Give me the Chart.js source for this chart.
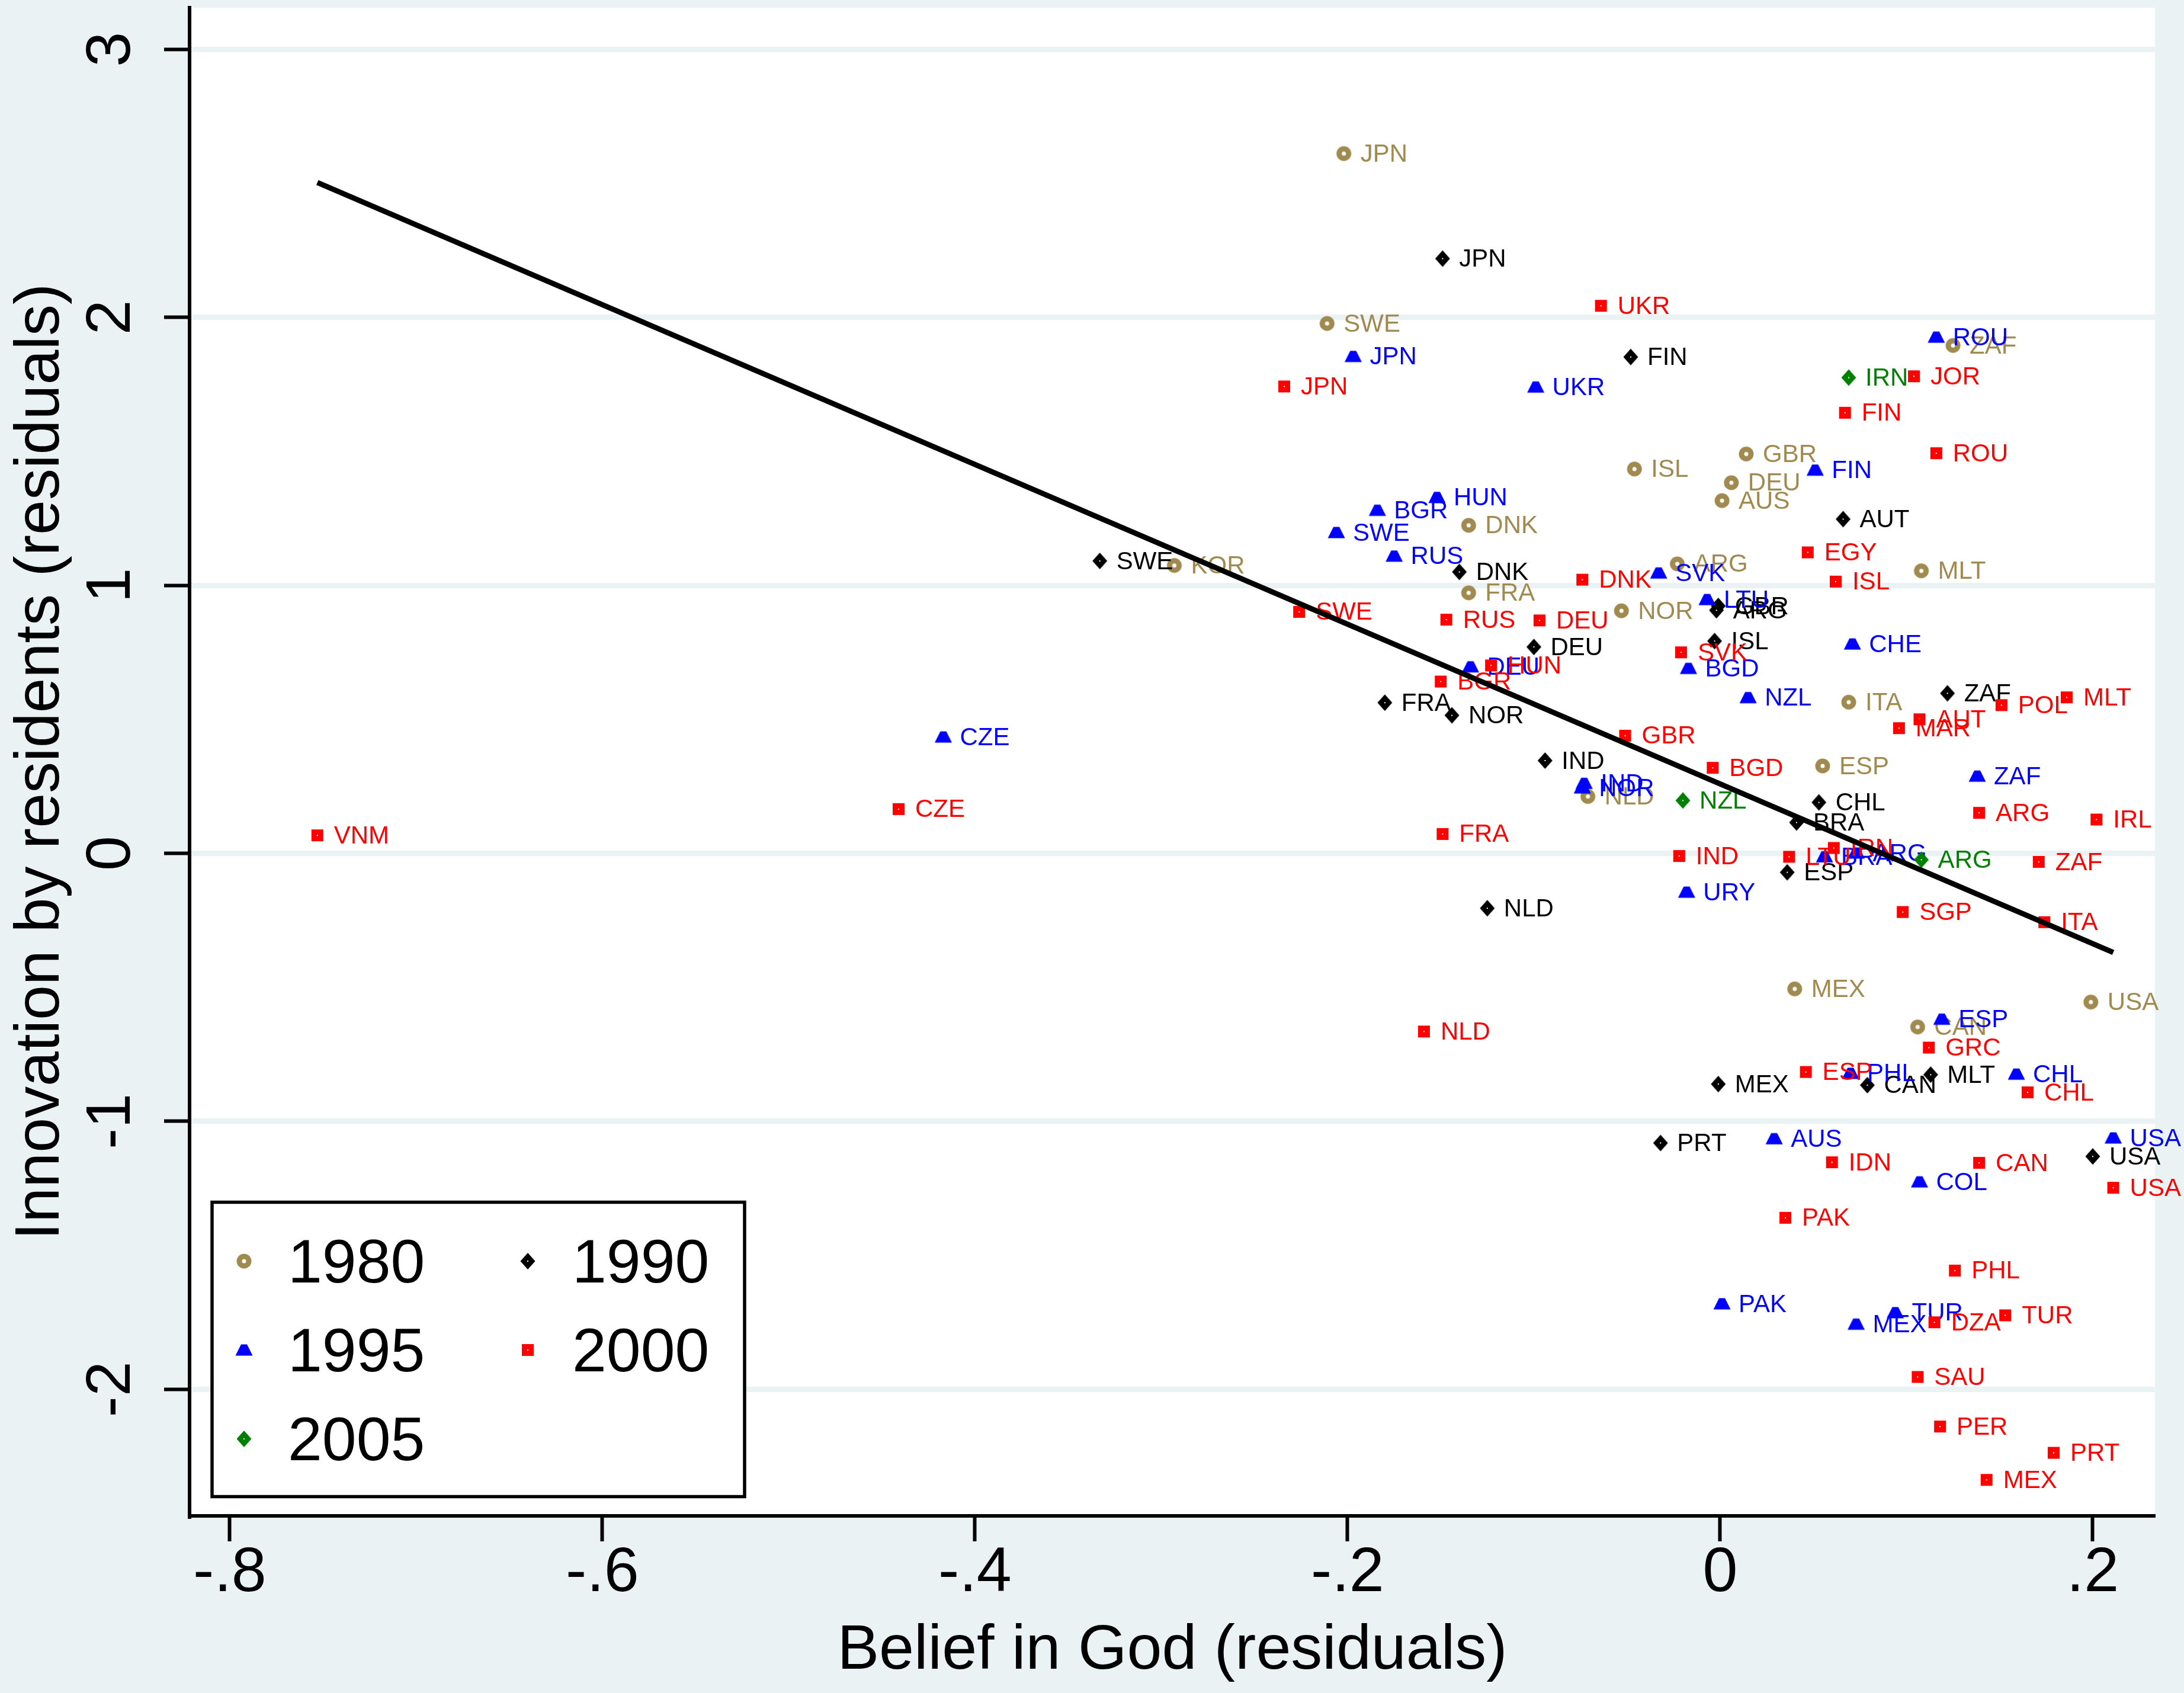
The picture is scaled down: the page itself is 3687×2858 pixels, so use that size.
<!DOCTYPE html>
<html>
<head>
<meta charset="utf-8">
<title>Belief in God vs innovation</title>
<script src="https://cdn.jsdelivr.net/npm/chart.js@4.4.1/dist/chart.umd.min.js"></script>
<style>
    html, body { margin: 0; padding: 0; background: #eaf2f3; }
    canvas { display: block; }
</style>
</head>
<body>
<canvas id="scatterChart" width="3687" height="2858"></canvas>
<script>
// ===============================
// Data
// ===============================
const years = ['1980', '1990', '1995', '2000', '2005'];

const codes1980 = ['JPN', 'SWE', 'KOR', 'ISL', 'GBR', 'DEU', 'AUS', 'DNK', 'ARG', 'ZAF', 'MLT', 'FRA', 'NOR', 'NLD', 'MEX', 'ITA', 'ESP', 'USA', 'CAN'];
const x1980 = [-0.202, -0.211, -0.293, -0.046, 0.014, 0.006, 0.001, -0.135, -0.023, 0.125, 0.108, -0.135, -0.053, -0.071, 0.040, 0.069, 0.055, 0.199, 0.106];
const y1980 = [2.611, 1.977, 1.074, 1.434, 1.490, 1.383, 1.316, 1.224, 1.080, 1.895, 1.054, 0.972, 0.905, 0.212, -0.506, 0.564, 0.326, -0.555, -0.648];

const codes1990 = ['JPN', 'FIN', 'AUT', 'SWE', 'DNK', 'GBR', 'ARG', 'ISL', 'DEU', 'FRA', 'NOR', 'IND', 'NLD', 'CHL', 'BRA', 'ESP', 'ZAF', 'MEX', 'PRT', 'CAN', 'MLT', 'USA'];
const x1990 = [-0.149, -0.048, 0.066, -0.333, -0.140, -0.001, -0.002, -0.003, -0.100, -0.180, -0.144, -0.094, -0.125, 0.053, 0.041, 0.036, 0.122, -0.001, -0.032, 0.079, 0.113, 0.200];
const y1990 = [2.219, 1.852, 1.247, 1.091, 1.050, 0.923, 0.907, 0.792, 0.770, 0.562, 0.515, 0.346, -0.205, 0.190, 0.115, -0.071, 0.597, -0.861, -1.081, -0.865, -0.826, -1.131];

const codes1995 = ['JPN', 'BGR', 'HUN', 'SWE', 'RUS', 'UKR', 'SVK', 'FIN', 'ROU', 'LTU', 'DEU', 'BGD', 'NZL', 'IND', 'NOR', 'URY', 'CZE', 'CHE', 'ZAF', 'BRA', 'ARG', 'ESP', 'PHL', 'CHL', 'AUS', 'USA', 'COL', 'PAK', 'MEX', 'TUR'];
const x1995 = [-0.197, -0.184, -0.152, -0.206, -0.175, -0.099, -0.033, 0.051, 0.116, -0.007, -0.134, -0.017, 0.015, -0.073, -0.074, -0.018, -0.417, 0.071, 0.138, 0.056, 0.073, 0.119, 0.070, 0.159, 0.029, 0.211, 0.107, 0.001, 0.073, 0.094];
const y1995 = [1.854, 1.280, 1.328, 1.197, 1.109, 1.740, 1.046, 1.430, 1.926, 0.947, 0.696, 0.690, 0.581, 0.261, 0.244, -0.145, 0.434, 0.781, 0.288, -0.013, 0.001, -0.619, -0.821, -0.824, -1.065, -1.062, -1.226, -1.681, -1.757, -1.714];

const codes2000 = ['VNM', 'CZE', 'JPN', 'UKR', 'SWE', 'BGR', 'RUS', 'FRA', 'NLD', 'DNK', 'DEU', 'HUN', 'GBR', 'BGD', 'SVK', 'IND', 'LTU', 'IRN', 'EGY', 'ISL', 'FIN', 'JOR', 'ROU', 'MAR', 'AUT', 'POL', 'MLT', 'ARG', 'IRL', 'ZAF', 'SGP', 'ITA', 'GRC', 'ESP', 'CHL', 'IDN', 'CAN', 'USA', 'PAK', 'PHL', 'DZA', 'TUR', 'SAU', 'PER', 'PRT', 'MEX'];
const x2000 = [-0.753, -0.441, -0.234, -0.064, -0.226, -0.150, -0.147, -0.149, -0.159, -0.074, -0.097, -0.123, -0.051, -0.004, -0.021, -0.022, 0.037, 0.061, 0.047, 0.062, 0.067, 0.104, 0.116, 0.096, 0.107, 0.151, 0.186, 0.139, 0.202, 0.171, 0.098, 0.174, 0.112, 0.046, 0.165, 0.060, 0.139, 0.211, 0.035, 0.126, 0.115, 0.153, 0.106, 0.118, 0.179, 0.143];
const y2000 = [0.067, 0.165, 1.742, 2.043, 0.901, 0.641, 0.872, 0.072, -0.665, 1.021, 0.869, 0.701, 0.439, 0.319, 0.750, -0.010, -0.013, 0.020, 1.123, 1.014, 1.644, 1.780, 1.493, 0.467, 0.500, 0.553, 0.582, 0.151, 0.126, -0.032, -0.219, -0.257, -0.725, -0.816, -0.892, -1.153, -1.155, -1.248, -1.360, -1.557, -1.750, -1.724, -1.954, -2.139, -2.237, -2.338];

const codes2005 = ['IRN', 'NZL', 'ARG'];
const x2005 = [0.069, -0.020, 0.108];
const y2005 = [1.775, 0.197, -0.024];

// fitted line, end points
const fitX = [-0.753, 0.211];
const fitY = [2.503, -0.370];

const xTicks = [-0.8, -0.6, -0.4, -0.2, 0, 0.2];
const xTickLabels = ['-.8', '-.6', '-.4', '-.2', '0', '.2'];
const yTicks = [-2, -1, 0, 1, 2, 3];
const yTickLabels = ['-2', '-1', '0', '1', '2', '3'];

// ===============================
// Styles
// ===============================
const BG = '#eaf2f3';
const FONT = '"Liberation Sans", Arial, Helvetica, sans-serif';
const seriesColors = ['#a08a50', '#000000', '#0000ff', '#ff0000', '#008000'];
const seriesShapes = ['ring', 'diamond', 'triangle', 'square', 'diamond'];

Chart.defaults.font.family = FONT;
Chart.defaults.color = '#000';

// small offscreen canvases used as point styles (Stata-like symbols)
function makeMarker(shape, color) {
    const c = document.createElement('canvas');
    c.width = 32;
    c.height = 32;
    const g = c.getContext('2d');
    const m = 16;
    g.fillStyle = color;
    if (shape === 'ring') {
        g.beginPath(); g.arc(m, m, 12.5, 0, Math.PI * 2); g.fill();
        g.fillStyle = '#fff';
        g.beginPath(); g.arc(m, m, 3.5, 0, Math.PI * 2); g.fill();
    } else if (shape === 'diamond') {
        g.beginPath();
        g.moveTo(m, m - 14); g.lineTo(m + 12.5, m); g.lineTo(m, m + 14); g.lineTo(m - 12.5, m);
        g.closePath(); g.fill();
        g.fillStyle = '#fff'; g.fillRect(m - 1, m - 1, 2, 2);
    } else if (shape === 'triangle') {
        g.beginPath();
        g.moveTo(m - 14.5, m + 9.5); g.lineTo(m + 14.5, m + 9.5); g.lineTo(m + 5, m - 9.5); g.lineTo(m - 5, m - 9.5);
        g.closePath(); g.fill();
    } else {
        g.fillRect(m - 10, m - 10, 20, 20);
        g.fillStyle = '#fff'; g.fillRect(m - 1, m - 1, 2, 2);
    }
    return c;
}

const markers = seriesShapes.map((s, i) => makeMarker(s, seriesColors[i]));

// ===============================
// Plugins
// ===============================
const plotBackground = {
    id: 'plotBackground',
    beforeDraw(chart) {
        const { ctx, chartArea: a } = chart;
        ctx.save();
        ctx.fillStyle = BG;
        ctx.fillRect(0, 0, chart.width, chart.height);
        ctx.fillStyle = '#fff';
        ctx.fillRect(a.left, a.top, a.right - a.left, a.bottom - a.top);
        ctx.restore();
    }
};

// country code next to each marker, drawn right after its own series
const pointLabels = {
    id: 'pointLabels',
    afterDatasetDraw(chart, args) {
        const ds = chart.data.datasets[args.index];
        if (!ds.codes) return;
        const ctx = chart.ctx;
        ctx.save();
        ctx.font = '42px ' + FONT;
        ctx.fillStyle = ds.labelColor;
        ctx.textAlign = 'left';
        ctx.textBaseline = 'middle';
        args.meta.data.forEach((pt, i) => {
            ctx.fillText(ds.codes[i], pt.x + 28, pt.y + 2);
        });
        ctx.restore();
    }
};

const boxLegend = {
    id: 'boxLegend',
    afterDraw(chart) {
        const ctx = chart.ctx;
        ctx.save();
        ctx.fillStyle = '#fff';
        ctx.fillRect(358, 2029.5, 899, 497);
        ctx.lineWidth = 5.5;
        ctx.strokeStyle = '#000';
        ctx.strokeRect(358, 2029.5, 899, 497);
        ctx.font = '104px ' + FONT;
        ctx.fillStyle = '#000';
        ctx.textAlign = 'left';
        ctx.textBaseline = 'middle';
        chart.data.datasets.forEach((ds, i) => {
            if (!ds.codes) return;
            const col = i % 2;
            const row = Math.floor(i / 2);
            const mx = [412, 891][col];
            const ty = 2129 + row * 150;
            const m = markers[i];
            ctx.drawImage(m, mx - m.width / 2, ty - m.height / 2);
            ctx.fillText(ds.label, [486, 966][col], ty + 7);
        });
        ctx.restore();
    }
};

// ===============================
// Chart
// ===============================
function initChart() {
    const series = [
        { codes: codes1980, xs: x1980, ys: y1980 },
        { codes: codes1990, xs: x1990, ys: y1990 },
        { codes: codes1995, xs: x1995, ys: y1995 },
        { codes: codes2000, xs: x2000, ys: y2000 },
        { codes: codes2005, xs: x2005, ys: y2005 }
    ];

    const datasets = series.map((s, i) => ({
        label: years[i],
        data: s.xs.map((x, j) => ({ x: x, y: s.ys[j] })),
        codes: s.codes,
        labelColor: seriesColors[i],
        pointStyle: markers[i],
        pointRadius: 12,
        order: series.length - i
    }));

    datasets.push({
        label: 'fit',
        data: fitX.map((x, j) => ({ x: x, y: fitY[j] })),
        showLine: true,
        borderColor: '#000',
        borderWidth: 9,
        pointRadius: 0,
        order: 0
    });

    const ctx = document.getElementById('scatterChart').getContext('2d');
    new Chart(ctx, {
        type: 'scatter',
        data: { datasets: datasets },
        plugins: [plotBackground, pointLabels, boxLegend],
        options: {
            responsive: false,
            animation: false,
            devicePixelRatio: 1,
            layout: { padding: { left: 0, top: 13, right: 49, bottom: 0 } },
            plugins: {
                legend: { display: false },
                tooltip: { enabled: false }
            },
            scales: {
                x: {
                    type: 'linear',
                    position: 'bottom',
                    min: -0.8216,
                    max: 0.2334,
                    afterBuildTicks: (s) => { s.ticks = xTicks.map(v => ({ value: v })); },
                    afterFit: (s) => { s.height = 299; s.paddingLeft = 0; s.paddingRight = 0; },
                    grid: { drawOnChartArea: false, drawTicks: true, tickLength: 43, tickWidth: 6, tickColor: '#000' },
                    border: { display: true, color: '#000', width: 6 },
                    ticks: {
                        autoSkip: false,
                        minRotation: 0,
                        maxRotation: 0,
                        padding: 2,
                        color: '#000',
                        font: { size: 106, lineHeight: 1 },
                        callback: (v, i) => xTickLabels[i]
                    },
                    title: {
                        display: true,
                        text: 'Belief in God (residuals)',
                        color: '#000',
                        font: { size: 106, lineHeight: 1.2 },
                        padding: { top: 0, bottom: 7 }
                    }
                },
                y: {
                    type: 'linear',
                    min: -2.4724,
                    max: 3.1554,
                    afterBuildTicks: (s) => { s.ticks = yTicks.map(v => ({ value: v })); },
                    afterFit: (s) => { s.width = 320; s.paddingTop = 0; s.paddingBottom = 0; },
                    grid: { color: BG, lineWidth: 9, drawTicks: true, tickLength: 43, tickWidth: 6, tickColor: '#000' },
                    border: { display: true, color: '#000', width: 6 },
                    ticks: {
                        minRotation: 90,
                        maxRotation: 90,
                        crossAlign: 'center',
                        padding: 40,
                        color: '#000',
                        font: { size: 106, lineHeight: 1 },
                        callback: (v, i) => yTickLabels[i]
                    },
                    title: {
                        display: true,
                        text: 'Innovation by residents (residuals)',
                        color: '#000',
                        font: { size: 106, lineHeight: 1.2 },
                        padding: { top: 6, bottom: 0 }
                    }
                }
            }
        }
    });
}

document.addEventListener('DOMContentLoaded', () => {
    initChart();
});
</script>
</body>
</html>
